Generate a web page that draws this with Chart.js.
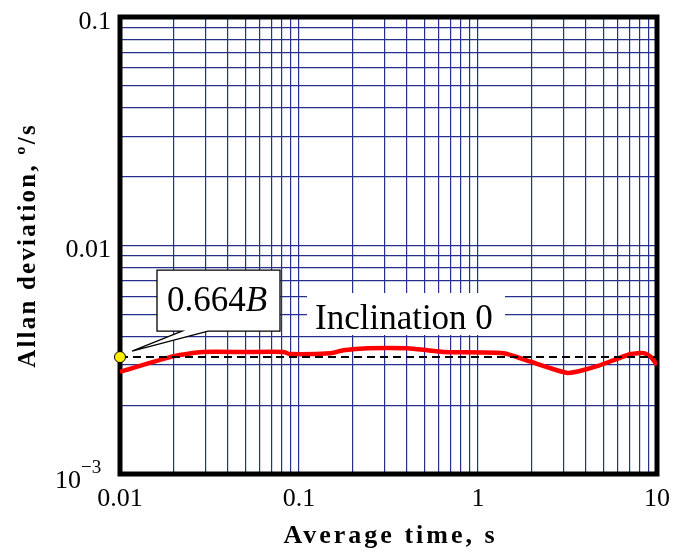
<!DOCTYPE html>
<html lang="en">
<head>
<meta charset="UTF-8">
<title>Allan deviation</title>
<script src="https://cdn.jsdelivr.net/npm/chart.js"></script>
<style>
  html, body { margin: 0; padding: 0; background: #fff; }
</style>
</head>
<body>
<canvas id="allan" width="678" height="556"></canvas>
<script>
// data
const avgTime  = [0.01, 0.02, 0.029, 0.05, 0.082, 0.089, 0.15, 0.177, 0.241, 0.404, 0.522, 0.641, 1.39, 1.97, 2.45, 3.17, 3.75, 4.67, 5.74, 7.14, 8.45, 9.25, 10];
const allanDev = [0.00280, 0.00328, 0.00342, 0.00342, 0.00342, 0.00335, 0.00338, 0.00348, 0.00355, 0.00355, 0.00348, 0.00342, 0.00338, 0.00310, 0.00293, 0.00277, 0.00283, 0.00297, 0.00315, 0.00335, 0.00338, 0.00325, 0.00300];
const levelB = 0.00325;          // 0.664B, slope 0 line
const xRange = [0.01, 10];
const yRange = [0.001, 0.1];
const xTickLabels = ['0.01', '0.1', '1', '10'];
const yTickLabels = ['', '0.01', '0.1'];   // 10^-3 drawn by hand below

const SERIF = "'Liberation Serif', 'Times New Roman', serif";
const GRID = '#24308c';

// 1..9 x 10^n between min and max
function logTicks(min, max) {
  const out = [];
  for (let e = Math.round(Math.log10(min)); e <= Math.round(Math.log10(max)); e++) {
    for (let k = 1; k <= 9; k++) {
      const v = k * Math.pow(10, e);
      if (v >= min * 0.999 && v <= max * 1.001) out.push(v);
    }
  }
  return out;
}

function decadeLabel(value, min, labels) {
  const l = Math.log10(value);
  if (Math.abs(l - Math.round(l)) > 1e-6) return '';
  return labels[Math.round(l - Math.log10(min))] || '';
}

const frame = {
  id: 'frame',
  beforeDatasetsDraw(chart) {
    const { ctx, chartArea: a } = chart;
    ctx.save();
    ctx.strokeStyle = '#000';
    ctx.lineWidth = 5;
    ctx.strokeRect(a.left, a.top, a.right - a.left, a.bottom - a.top);
    ctx.restore();
  },
  afterDraw(chart) {
    const { ctx, chartArea: a, scales } = chart;
    const px = scales.x.getPixelForValue(xRange[0]);
    const py = scales.y.getPixelForValue(levelB);
    ctx.save();

    // "Inclination 0" label with white backing
    ctx.fillStyle = '#fff';
    ctx.fillRect(px + 187, py - 64, 198, 42);
    ctx.fillStyle = '#000';
    ctx.font = '35px ' + SERIF;
    ctx.textBaseline = 'alphabetic';
    ctx.textAlign = 'left';
    ctx.fillText('Inclination 0', px + 195, py - 28);

    // callout box "0.664B"
    const L = px + 37, T = py - 87, R = px + 160, B = py - 26;
    ctx.beginPath();
    ctx.moveTo(L, T); ctx.lineTo(R, T); ctx.lineTo(R, B);
    ctx.lineTo(px + 88, B); ctx.lineTo(px + 12, py - 6); ctx.lineTo(px + 62, B);
    ctx.lineTo(L, B); ctx.closePath();
    ctx.fillStyle = '#fff';
    ctx.fill();
    ctx.lineWidth = 1.3;
    ctx.strokeStyle = '#000';
    ctx.stroke();
    ctx.fillStyle = '#000';
    ctx.font = '35px ' + SERIF;
    const num = '0.664';
    ctx.fillText(num, px + 47, py - 46);
    const w = ctx.measureText(num).width;
    ctx.font = 'italic 35px ' + SERIF;
    ctx.fillText('B', px + 47 + w, py - 46);

    // 10^-3 tick label
    const y3 = scales.y.getPixelForValue(yRange[0]);
    ctx.font = '26px ' + SERIF;
    ctx.fillText('10', 55, y3 + 14);
    ctx.font = '19px ' + SERIF;
    ctx.fillText('\u22123', 81, y3 - 1);

    // axis titles
    ctx.font = 'bold 26px ' + SERIF;
    ctx.letterSpacing = '3px';
    ctx.textAlign = 'center';
    ctx.fillText('Average time, s', (a.left + a.right) / 2 + 2, 543);
    ctx.translate(35, (a.top + a.bottom) / 2);
    ctx.rotate(-Math.PI / 2);
    ctx.font = 'bold 25px ' + SERIF;
    ctx.letterSpacing = '2.2px';
    ctx.fillText('Allan deviation, \u00BA/s', 0, 0);
    ctx.restore();
  }
};

new Chart(document.getElementById('allan'), {
  type: 'line',
  data: {
    datasets: [
      {
        data: [{ x: xRange[0], y: levelB }],
        pointRadius: 5.5,
        pointBackgroundColor: '#ffee00',
        pointBorderColor: '#000',
        pointBorderWidth: 1,
        showLine: false,
        clip: false,
        order: 0
      },
      {
        data: xRange.map(x => ({ x, y: levelB })),
        borderColor: '#000',
        borderWidth: 2,
        borderDash: [8, 5],
        pointRadius: 0,
        order: 1
      },
      {
        data: avgTime.map((t, i) => ({ x: t, y: allanDev[i] })),
        borderColor: '#ff0000',
        borderWidth: 4.5,
        pointRadius: 0,
        tension: 0.2,
        order: 2
      }
    ]
  },
  options: {
    responsive: false,
    animation: false,
    devicePixelRatio: 1,
    layout: { padding: { top: 17, right: 21, left: 0, bottom: 0 } },
    plugins: { legend: { display: false }, tooltip: { enabled: false } },
    scales: {
      x: {
        type: 'logarithmic',
        min: xRange[0], max: xRange[1],
        afterBuildTicks: s => { s.ticks = logTicks(xRange[0], xRange[1]).map(v => ({ value: v })); },
        afterFit: s => { s.height = 82; s.paddingLeft = 0; s.paddingRight = 0; },
        border: { display: false },
        grid: { color: GRID, lineWidth: 1.2, drawTicks: false },
        ticks: {
          autoSkip: false, maxRotation: 0, padding: 10, color: '#000',
          font: { family: SERIF, size: 26 },
          callback: v => decadeLabel(v, xRange[0], xTickLabels)
        }
      },
      y: {
        type: 'logarithmic',
        min: yRange[0], max: yRange[1],
        afterBuildTicks: s => { s.ticks = logTicks(yRange[0], yRange[1]).map(v => ({ value: v })); },
        afterFit: s => { s.width = 120; s.paddingTop = 0; s.paddingBottom = 0; },
        border: { display: false },
        grid: { color: GRID, lineWidth: 1.2, drawTicks: false },
        ticks: {
          autoSkip: false, padding: 9, labelOffset: 5, color: '#000',
          font: { family: SERIF, size: 26 },
          callback: v => decadeLabel(v, yRange[0], yTickLabels)
        }
      }
    }
  },
  plugins: [frame]
});
</script>
</body>
</html>
